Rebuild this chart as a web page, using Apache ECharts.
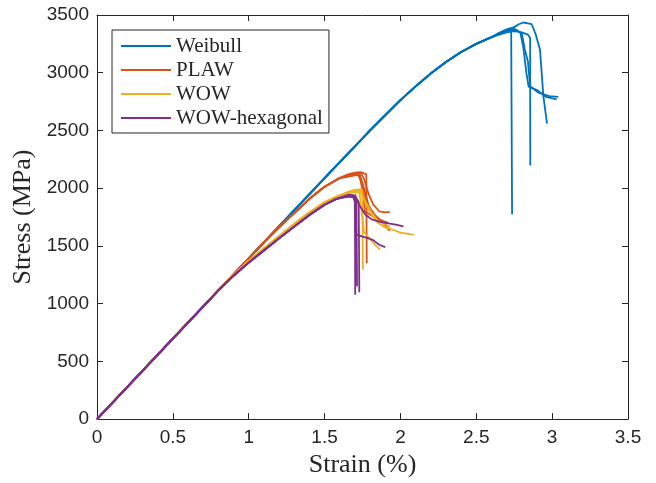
<!DOCTYPE html>
<html>
<head>
<meta charset="utf-8">
<script src="https://cdn.jsdelivr.net/npm/echarts@6/dist/echarts.min.js"></script>
<style>html,body{margin:0;padding:0;background:#fff}#c{width:656px;height:483px}</style>
</head>
<body>
<div id="c"></div>
<script>
// Tick values
const xTicks = [0, 0.5, 1, 1.5, 2, 2.5, 3, 3.5];
const yTicks = [0, 500, 1000, 1500, 2000, 2500, 3000, 3500];
const groupNames = ['Weibull', 'PLAW', 'WOW', 'WOW-hexagonal'];

// Shared rise for each group [strain %, stress MPa]
const riseWeibull = [[0,0],[0.5,697],[1.0,1393],[1.5,2088],[1.6,2225],[1.7,2362],[1.8,2500],[1.9,2633],[2.0,2762],[2.1,2882],[2.2,2993],[2.3,3093],[2.4,3180],[2.5,3250],[2.6,3308]];
const risePLAW = [[0,0],[0.5,697],[0.9,1254],[1.0,1393],[1.1,1530],[1.2,1660],[1.3,1785],[1.4,1908],[1.5,2012],[1.6,2088]];
const riseWOW = [[0,0],[0.5,697],[0.8,1114],[0.9,1248],[1.0,1370],[1.1,1477],[1.2,1585],[1.3,1690],[1.4,1790],[1.5,1878],[1.6,1938]];
const riseHex = [[0,0],[0.5,697],[0.8,1114],[0.9,1242],[1.0,1355],[1.1,1460],[1.2,1565],[1.3,1667],[1.4,1767],[1.5,1857],[1.58,1908]];

// Weibull specimens (after the shared rise)
const weibull1 = [[2.65,3335],[2.70,3360],[2.73,3365],[2.735,3350],[2.736,1775]];
const weibull2 = [[2.65,3330],[2.70,3350],[2.75,3360],[2.80,3350],[2.84,3330],[2.855,3300],[2.856,2196]];
const weibull3 = [[2.65,3340],[2.70,3365],[2.76,3372],[2.80,3340],[2.82,3200],[2.84,3100],[2.855,2884],[2.91,2827],[2.98,2798],[3.04,2790]];
const weibull4 = [[2.65,3345],[2.70,3375],[2.75,3395],[2.78,3420],[2.81,3435],[2.84,3428],[2.865,3420],[2.89,3340],[2.92,3200],[2.942,2800],[2.966,2560]];
const weibull5 = [[2.65,3338],[2.70,3368],[2.75,3380],[2.79,3350],[2.81,3220],[2.83,3000],[2.845,2880],[2.90,2850],[2.96,2790],[3.03,2770]];

// PLAW specimens
const plaw1 = [[1.65,2118],[1.70,2135],[1.74,2140],[1.775,2120],[1.778,1350]];
const plaw2 = [[1.65,2112],[1.70,2127],[1.74,2130],[1.76,2080],[1.79,1950],[1.82,1860],[1.86,1800],[1.90,1790],[1.93,1795]];
const plaw3 = [[1.65,2105],[1.70,2120],[1.73,2125],[1.76,2000],[1.79,1850],[1.83,1770],[1.87,1720],[1.91,1660],[1.93,1630]];
const plaw4 = [[1.65,2098],[1.70,2110],[1.72,2115],[1.75,2040],[1.77,1900],[1.80,1800],[1.84,1750],[1.88,1700],[1.91,1680]];
const plaw5 = [[1.65,2108],[1.69,2117],[1.73,2118],[1.75,1980],[1.765,1800],[1.80,1770],[1.84,1740],[1.88,1720],[1.92,1700]];

// WOW specimens
const wow1 = [[1.65,1965],[1.70,1985],[1.745,1990],[1.75,1960],[1.752,1293]];
const wow2 = [[1.65,1958],[1.69,1970],[1.705,1965],[1.708,1360]];
const wow3 = [[1.65,1962],[1.70,1980],[1.73,1985],[1.76,1900],[1.80,1790],[1.85,1700],[1.90,1660],[1.95,1640],[2.00,1615],[2.05,1605],[2.09,1595]];
const wow4 = [[1.65,1955],[1.70,1970],[1.73,1962],[1.745,1800],[1.76,1620],[1.80,1560],[1.84,1500],[1.865,1470]];
const wow5 = [[1.65,1960],[1.70,1975],[1.74,1975],[1.77,1880],[1.81,1790],[1.85,1720],[1.89,1690],[1.93,1665]];

// WOW-hexagonal specimens
const hex1 = [[1.62,1928],[1.66,1945],[1.69,1940],[1.70,1900],[1.702,1078]];
const hex2 = [[1.62,1925],[1.66,1938],[1.70,1935],[1.725,1880],[1.729,1098]];
const hex3 = [[1.62,1920],[1.66,1932],[1.69,1920],[1.70,1880],[1.705,1600],[1.75,1580],[1.78,1570],[1.82,1550],[1.86,1510],[1.90,1490]];
const hex4 = [[1.62,1922],[1.66,1935],[1.70,1930],[1.73,1850],[1.77,1770],[1.81,1730],[1.86,1710],[1.92,1695],[1.97,1685],[2.02,1670]];
const hex5 = [[1.62,1918],[1.66,1928],[1.69,1925],[1.71,1870],[1.714,1150]];

const colors = ['#0072BD', '#D95319', '#EDB120', '#7E2F8E'];
const groups = [
  [riseWeibull, [weibull1, weibull2, weibull3, weibull4, weibull5]],
  [risePLAW, [plaw1, plaw2, plaw3, plaw4, plaw5]],
  [riseWOW, [wow1, wow2, wow3, wow4, wow5]],
  [riseHex, [hex1, hex2, hex3, hex4, hex5]]
];

const series = [];
groups.forEach(function (g, gi) {
  g[1].forEach(function (tail) {
    series.push({
      name: groupNames[gi],
      type: 'line',
      data: g[0].concat(tail),
      symbol: 'none',
      color: colors[gi],
      lineStyle: { width: 1.8, color: colors[gi] },
      animation: false
    });
  });
});

const axisColor = '#262626';
const tickFont = { fontFamily: 'Liberation Sans, Arial, sans-serif', fontSize: 19, color: axisColor };
const serif = 'Liberation Serif, Times New Roman, serif';

const chart = echarts.init(document.getElementById('c'), null, { renderer: 'canvas' });
chart.setOption({
  backgroundColor: '#ffffff',
  animation: false,
  grid: { left: 97, right: 28, top: 15, bottom: 61, containLabel: false },
  legend: {
    data: groupNames,
    orient: 'vertical',
    left: 112,
    top: 30,
    itemWidth: 50,
    itemHeight: 2,
    itemGap: 2,
    icon: 'rect',
    padding: [5, 6, 4, 9],
    borderColor: axisColor,
    borderWidth: 1,
    backgroundColor: '#ffffff',
    textStyle: { fontFamily: serif, fontSize: 21, color: axisColor, lineHeight: 22 }
  },
  xAxis: [{
    type: 'value', min: 0, max: 3.5, interval: 0.5,
    name: 'Strain (%)', nameLocation: 'middle', nameGap: 30,
    nameTextStyle: { fontFamily: serif, fontSize: 26, color: axisColor },
    axisLine: { show: true, onZero: false, lineStyle: { color: axisColor, width: 1 } },
    axisTick: { show: true, inside: true, length: 6, lineStyle: { color: axisColor } },
    axisLabel: Object.assign({ margin: 9, formatter: function (v) { return String(v); } }, tickFont),
    splitLine: { show: false }
  }, {
    type: 'value', min: 0, max: 3.5, interval: 0.5, position: 'top',
    axisLine: { show: true, onZero: false, lineStyle: { color: axisColor, width: 1 } },
    axisTick: { show: true, inside: true, length: 6, lineStyle: { color: axisColor } },
    axisLabel: { show: false }, splitLine: { show: false }
  }],
  yAxis: [{
    type: 'value', min: 0, max: 3500, interval: 500,
    name: 'Stress (MPa)', nameLocation: 'middle', nameGap: 58,
    nameTextStyle: { fontFamily: serif, fontSize: 26, color: axisColor },
    axisLine: { show: true, onZero: false, lineStyle: { color: axisColor, width: 1 } },
    axisTick: { show: true, inside: true, length: 6, lineStyle: { color: axisColor } },
    axisLabel: Object.assign({ margin: 8, formatter: function (v) { return String(v); } }, tickFont),
    splitLine: { show: false }
  }, {
    type: 'value', min: 0, max: 3500, interval: 500, position: 'right',
    axisLine: { show: true, onZero: false, lineStyle: { color: axisColor, width: 1 } },
    axisTick: { show: true, inside: true, length: 6, lineStyle: { color: axisColor } },
    axisLabel: { show: false }, splitLine: { show: false }
  }],
  series: series
});
</script>
</body>
</html>
